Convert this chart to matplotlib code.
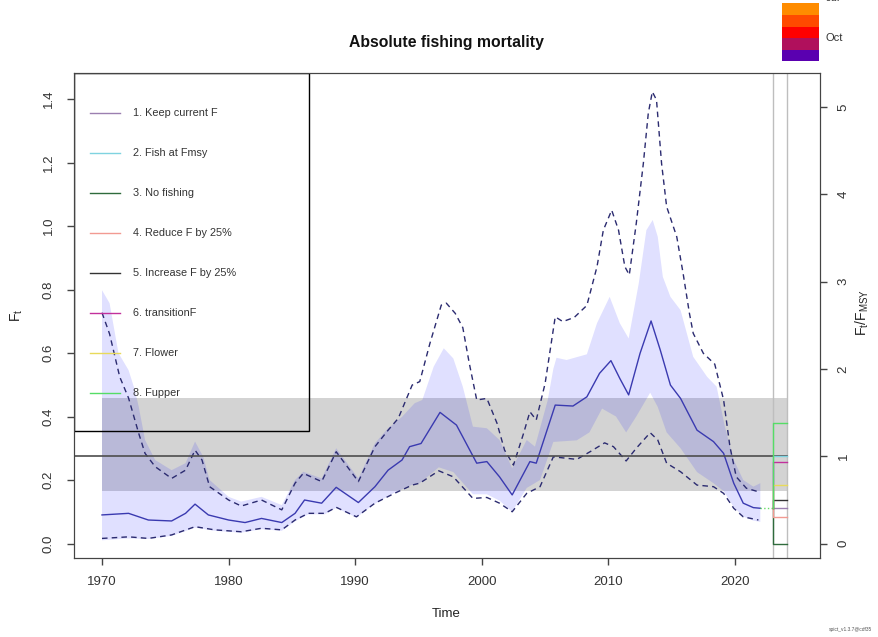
import numpy as np
import matplotlib.pyplot as plt
from matplotlib.patches import Rectangle

plt.rcParams['font.family'] = ['Liberation Sans', 'DejaVu Sans']
plt.rcParams['mathtext.fontset'] = 'custom'
plt.rcParams['mathtext.rm'] = 'Liberation Sans'
plt.rcParams['mathtext.it'] = 'Liberation Sans'

# median F
f_yr = [1970.0, 1972.1, 1973.66, 1975.5, 1976.6, 1977.35, 1978.4, 1980.0, 1981.3, 1982.6, 1984.2,
        1985.25, 1986.0, 1987.35, 1988.5, 1990.25, 1991.56, 1992.6, 1993.7, 1994.3, 1995.2, 1996.7,
        1998.0, 1999.6, 2000.4, 2001.4, 2002.4, 2003.8, 2004.3, 2005.8, 2007.2, 2008.3, 2009.3,
        2010.2, 2010.9, 2011.6, 2012.5, 2013.37, 2014.1, 2014.9, 2015.7, 2017.0, 2018.3, 2019.1,
        2019.9, 2020.65, 2021.45, 2022.0]
f_med = [0.090, 0.095, 0.074, 0.071, 0.095, 0.124, 0.090, 0.074, 0.066, 0.079, 0.066,
         0.095, 0.137, 0.127, 0.177, 0.129, 0.179, 0.231, 0.263, 0.305, 0.315, 0.413,
         0.373, 0.253, 0.258, 0.210, 0.153, 0.258, 0.253, 0.436, 0.433, 0.462, 0.536,
         0.576, 0.520, 0.468, 0.599, 0.701, 0.609, 0.499, 0.457, 0.357, 0.321, 0.284,
         0.190, 0.127, 0.113, 0.111]

# dashed CI of absolute F
hi_yr = [1970.0, 1970.6, 1971.4, 1972.1, 1972.9, 1973.4, 1974.2, 1975.5, 1976.6, 1977.35, 1977.9,
         1978.5, 1980.0, 1981.0, 1982.6, 1984.2, 1985.25, 1985.9, 1987.35, 1988.5, 1990.25, 1991.56,
         1992.6, 1993.4, 1994.5, 1995.1, 1995.9, 1996.8, 1997.2, 1997.9, 1998.5, 1999.0, 1999.6,
         2000.4, 2001.2, 2001.8, 2002.5, 2003.3, 2003.8, 2004.3, 2005.0, 2005.8, 2006.4, 2007.3,
         2008.3, 2009.1, 2009.6, 2010.26, 2010.8, 2011.3, 2011.65, 2012.2, 2012.76, 2013.15, 2013.47,
         2013.8, 2014.2, 2014.6, 2015.4, 2015.9, 2016.4, 2016.7, 2017.5, 2018.4, 2019.1, 2019.6,
         2020.1, 2020.9, 2021.85]
ci_hi = [0.727, 0.660, 0.525, 0.458, 0.347, 0.284, 0.242, 0.205, 0.231, 0.294, 0.263,
         0.179, 0.137, 0.118, 0.137, 0.106, 0.190, 0.221, 0.195, 0.289, 0.195, 0.305,
         0.357, 0.394, 0.499, 0.510, 0.630, 0.751, 0.757, 0.725, 0.680, 0.570, 0.452,
         0.457, 0.379, 0.294, 0.247, 0.347, 0.415, 0.389, 0.504, 0.714, 0.699, 0.712,
         0.750, 0.872, 0.987, 1.050, 0.987, 0.872, 0.846, 1.008, 1.197, 1.355, 1.423,
         1.397, 1.197, 1.061, 0.966, 0.851, 0.725, 0.662, 0.599, 0.565, 0.452, 0.305,
         0.210, 0.174, 0.163]
lo_yr = [1970.0, 1972.1, 1973.66, 1975.5, 1977.35, 1978.9, 1981.0, 1982.6, 1984.2, 1985.25, 1986.3,
         1987.6, 1988.5, 1990.1, 1991.56, 1993.1, 1994.5, 1995.1, 1996.6, 1997.75, 1999.3, 2000.4,
         2001.4, 2002.4, 2003.55, 2004.6, 2005.65, 2007.5, 2008.55, 2009.7, 2010.4, 2011.4, 2012.2,
         2013.3, 2013.9, 2014.6, 2015.7, 2017.0, 2018.3, 2019.1, 2019.9, 2020.65, 2021.85]
ci_lo = [0.016, 0.021, 0.016, 0.027, 0.053, 0.043, 0.037, 0.048, 0.043, 0.074, 0.095,
         0.095, 0.114, 0.084, 0.127, 0.158, 0.184, 0.190, 0.229, 0.210, 0.142, 0.145,
         0.127, 0.100, 0.158, 0.179, 0.273, 0.265, 0.289, 0.317, 0.305, 0.260, 0.300,
         0.349, 0.326, 0.253, 0.226, 0.184, 0.179, 0.158, 0.111, 0.084, 0.074]

# shaded CI (relative F scaled by Fmsy)
sh_hi_yr = [1970.0, 1970.6, 1971.3, 1972.1, 1972.6, 1972.9, 1973.4, 1974.2, 1975.5, 1976.6, 1977.35,
            1978.0, 1978.5, 1980.0, 1981.0, 1982.6, 1984.2, 1985.25, 1985.9, 1987.35, 1988.5, 1990.25,
            1991.56, 1992.6, 1993.7, 1994.7, 1995.3, 1996.2, 1997.0, 1997.75, 1998.5, 1999.3, 2000.4,
            2001.4, 2002.4, 2003.55, 2004.2, 2005.2, 2005.65, 2005.9, 2006.7, 2008.3, 2009.1, 2010.1,
            2010.9, 2011.6, 2012.4, 2013.0, 2013.5, 2013.9, 2014.3, 2014.9, 2015.7, 2016.7, 2017.8,
            2018.55, 2019.2, 2019.9, 2020.65, 2021.45, 2022.0]
sh_hi = [0.798, 0.757, 0.600, 0.546, 0.483, 0.431, 0.326, 0.263, 0.231, 0.253, 0.321,
         0.273, 0.200, 0.147, 0.132, 0.147, 0.121, 0.200, 0.226, 0.205, 0.300, 0.205,
         0.316, 0.363, 0.399, 0.442, 0.452, 0.557, 0.615, 0.583, 0.494, 0.368, 0.363,
         0.326, 0.237, 0.326, 0.305, 0.450, 0.550, 0.585, 0.578, 0.596, 0.694, 0.777,
         0.694, 0.646, 0.820, 0.987, 1.019, 0.966, 0.840, 0.777, 0.735, 0.588, 0.525,
         0.494, 0.368, 0.263, 0.200, 0.179, 0.190]
sh_lo_yr = [1970.0, 1972.1, 1973.66, 1975.5, 1977.35, 1978.9, 1981.0, 1982.6, 1984.2, 1985.25, 1986.3,
            1987.6, 1988.5, 1990.1, 1991.56, 1993.1, 1994.5, 1995.1, 1996.6, 1997.75, 1999.3, 2000.4,
            2001.4, 2002.4, 2003.55, 2004.6, 2005.65, 2007.5, 2008.5, 2009.5, 2010.6, 2011.4, 2012.2,
            2013.3, 2013.9, 2014.6, 2015.7, 2017.0, 2018.3, 2019.1, 2019.9, 2020.65, 2021.45, 2022.0]
sh_lo = [0.010, 0.016, 0.014, 0.024, 0.050, 0.040, 0.034, 0.045, 0.040, 0.070, 0.092,
         0.092, 0.112, 0.082, 0.125, 0.160, 0.185, 0.190, 0.240, 0.225, 0.155, 0.155,
         0.135, 0.100, 0.175, 0.200, 0.320, 0.325, 0.350, 0.425, 0.400, 0.350, 0.400,
         0.475, 0.430, 0.350, 0.300, 0.225, 0.190, 0.165, 0.115, 0.085, 0.072, 0.068]

fmsy = 0.275
fmsy_lo, fmsy_hi = 0.165, 0.458
t_last, t_pred, t_end = 2022.0, 2023.0, 2024.1

scen_names = ['1. Keep current F', '2. Fish at Fmsy', '3. No fishing', '4. Reduce F by 25%',
              '5. Increase F by 25%', '6. transitionF', '7. Flower', '8. Fupper']
scen_cols = ['#9B7FB0', '#7FD3E0', '#2F6B3C', '#F29A92', '#333333', '#C2309C', '#E8DA5A', '#55DD66']
scen_F = [0.111, 0.275, 0.0, 0.083, 0.137, 0.257, 0.184, 0.380]

fig = plt.figure(figsize=(8.79, 6.37), dpi=100)
ax = fig.add_axes([0.0842, 0.124, 0.8492, 0.7614])
ax.set_xlim(1967.79, 2026.75)
ax.set_ylim(-0.0457, 1.482)

# Fmsy band + line
ax.fill_between([1970, t_end], fmsy_lo, fmsy_hi, color='#D3D3D3', lw=0, zorder=1)
ax.plot([1967.79, t_end], [fmsy, fmsy], color='#4D4D4D', lw=1.2, zorder=4)

# shaded CI
px = np.concatenate([sh_hi_yr, sh_lo_yr[::-1]])
py = np.concatenate([sh_hi, sh_lo[::-1]])
ax.fill(px, py, color='blue', alpha=0.12, lw=0, zorder=2)

ax.plot(hi_yr, ci_hi, color='#2B2B70', lw=1, ls=(0, (4, 3)), zorder=3)
ax.plot(lo_yr, ci_lo, color='#2B2B70', lw=1, ls=(0, (4, 3)), zorder=3)
ax.plot(f_yr, f_med, color='#3A3AB0', lw=1, zorder=3)
ax.plot([t_last, t_pred], [f_med[-1], f_med[-1]], color='#66DD66', lw=1, ls=':', zorder=3)

# time markers
for t in [t_pred, t_end]:
    ax.axvline(t, color='#BEBEBE', lw=1, zorder=1.5)

# scenarios
for F, c in zip(scen_F, scen_cols):
    ax.plot([t_pred, t_pred, t_end], [f_med[-1], F, F], color=c, lw=1, zorder=5)

# legend box and entries
ax.add_patch(Rectangle((0, 0.2619), 0.3148, 0.7381, transform=ax.transAxes,
                       fill=False, ec='black', lw=1, zorder=6))
for i, (name, c) in enumerate(zip(scen_names, scen_cols)):
    yy = 0.9175 - i * 0.08247
    ax.plot([0.0214, 0.0616], [yy, yy], color=c, lw=1, transform=ax.transAxes, zorder=6)
    ax.text(0.079, yy, name, transform=ax.transAxes, fontsize=7.8, color='#333333',
            va='center', ha='left', zorder=6)

for s in ax.spines.values():
    s.set_color('#444444')
ax.set_xticks([1970, 1980, 1990, 2000, 2010, 2020])
ax.set_yticks(np.arange(0, 1.41, 0.2))
ax.set_yticklabels(['%.1f' % v for v in np.arange(0, 1.41, 0.2)], rotation=90, va='center')
ax.tick_params(axis='both', length=5.3, width=1, color='#444444', labelsize=9.5, labelcolor='#333333')
ax.tick_params(axis='x', pad=8)
ax.tick_params(axis='y', pad=8.6)

ax2 = ax.twinx()
ax2.set_ylim(ax.get_ylim()[0] / fmsy, ax.get_ylim()[1] / fmsy)
ax2.set_yticks(range(6))
ax2.set_yticklabels([str(v) for v in range(6)], rotation=90, va='center')
ax2.tick_params(axis='y', length=5.3, width=1, color='#444444', labelsize=9.5, labelcolor='#333333', pad=7)
for s in ax2.spines.values():
    s.set_color('#444444')

fig.text(0.508, 0.934, 'Absolute fishing mortality', ha='center', va='center',
         fontsize=11.3, fontweight='bold', color='#111111')
fig.text(0.508, 0.036, 'Time', ha='center', va='center', fontsize=9.5, color='#222222')
fig.text(0.019, 0.505, r'$\mathrm{F_t}$', rotation=90, ha='center', va='center', fontsize=10, color='#222222')
fig.text(0.981, 0.510, r'$\mathrm{F_t/F_{MSY}}$', rotation=90, ha='center', va='center', fontsize=10,
         color='#222222')

# season colour key (top right)
season_cols = ['#FF8C00', '#FF4A00', '#FF0000', '#B0105C', '#5A00B0']
season_edges = [3, 15, 27, 38, 50, 61]
for c, y0, y1 in zip(season_cols, season_edges[:-1], season_edges[1:]):
    fig.add_artist(Rectangle((782 / 879, 1 - y1 / 637), 37 / 879, (y1 - y0) / 637,
                             transform=fig.transFigure, fc=c, ec='none'))
fig.text(826 / 879, 1 - 38 / 637, 'Oct', fontsize=8, color='#333333', va='center', ha='left')
fig.text(826 / 879, 1 + 2 / 637, 'Jul', fontsize=8, color='#333333', va='center', ha='left')
fig.text(0.992, 0.008, 'spict_v1.3.7@cdf35', fontsize=3.5, color='#555555', ha='right', va='bottom')

fig.savefig('out.png', dpi=100)
